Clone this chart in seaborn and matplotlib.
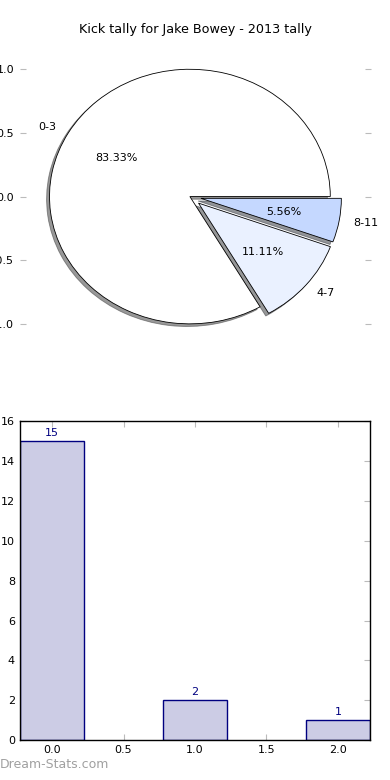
import matplotlib
matplotlib.use("Agg")
import matplotlib.pyplot as plt
import seaborn as sns

# kick counts per range, 2013
ranges = ["0-3", "4-7", "8-11"]
kicks = [15, 2, 1]
bar_pos = [0, 1, 2]
pie_colors = ["#ffffff", "#eaf1ff", "#c5d8ff"]
explode = [0, 0.08, 0.08]

sns.set_style("white")
plt.rcParams["font.family"] = ["DejaVu Sans"]
plt.rcParams["font.size"] = 8
plt.rcParams["text.color"] = "black"
plt.rcParams["xtick.labelcolor"] = "black"
plt.rcParams["ytick.labelcolor"] = "black"

fig = plt.figure(figsize=(3.9, 7.8), dpi=100)
ax1 = fig.add_axes([0.0513, 0.544, 0.9, 0.408])
ax2 = fig.add_axes([0.051, 0.051, 0.898, 0.409])

# pie
ax1.pie(kicks, labels=ranges, colors=pie_colors, explode=explode,
        autopct="%1.2f%%", startangle=0,
        shadow={"ox": -0.015, "oy": -0.015, "shade": 0.8},
        wedgeprops=dict(edgecolor="black", linewidth=0.6),
        textprops=dict(fontsize=8, color="black"))
ax1.set_aspect("auto")
ax1.set_xlim(-1.21, 1.29)
ax1.set_ylim(-1.25, 1.25)
ax1.set_frame_on(False)
ax1.set_xticks([])
ax1.set_yticks([-1.0, -0.5, 0.0, 0.5, 1.0])
ax1.yaxis.set_ticks_position("both")
ax1.tick_params(axis="y", direction="in", length=4, color="#bbbbbb",
                labelsize=8, left=True, right=True, pad=4.3)
ax1.set_title("Kick tally for Jake Bowey - 2013 tally", fontsize=9.2,
              pad=3, color="black")

# bars
sns.barplot(x=bar_pos, y=kicks, native_scale=True, width=0.45,
            color="#ccccE5", saturation=1, edgecolor="#000080",
            linewidth=1, ax=ax2)
for x, v in zip(bar_pos, kicks):
    ax2.text(x, v + 0.15, str(v), ha="center", va="bottom",
             color="#000080", fontsize=8)
ax2.set_xlim(-0.225, 2.225)
ax2.set_ylim(0, 16)
ax2.set_xticks([0, 0.5, 1.0, 1.5, 2.0])
ax2.set_xticklabels(["0.0", "0.5", "1.0", "1.5", "2.0"])
ax2.set_yticks(range(0, 17, 2))
ax2.tick_params(direction="in", length=4, color="#bbbbbb", labelsize=8,
                top=True, right=True, bottom=True, left=True)
for s in ax2.spines.values():
    s.set_color("black")
    s.set_linewidth(1)

fig.text(0.0, 0.0115, "Dream-Stats.com", color="#a0a0a0", fontsize=9,
         ha="left", va="bottom")

fig.savefig("out.png", dpi=100)
